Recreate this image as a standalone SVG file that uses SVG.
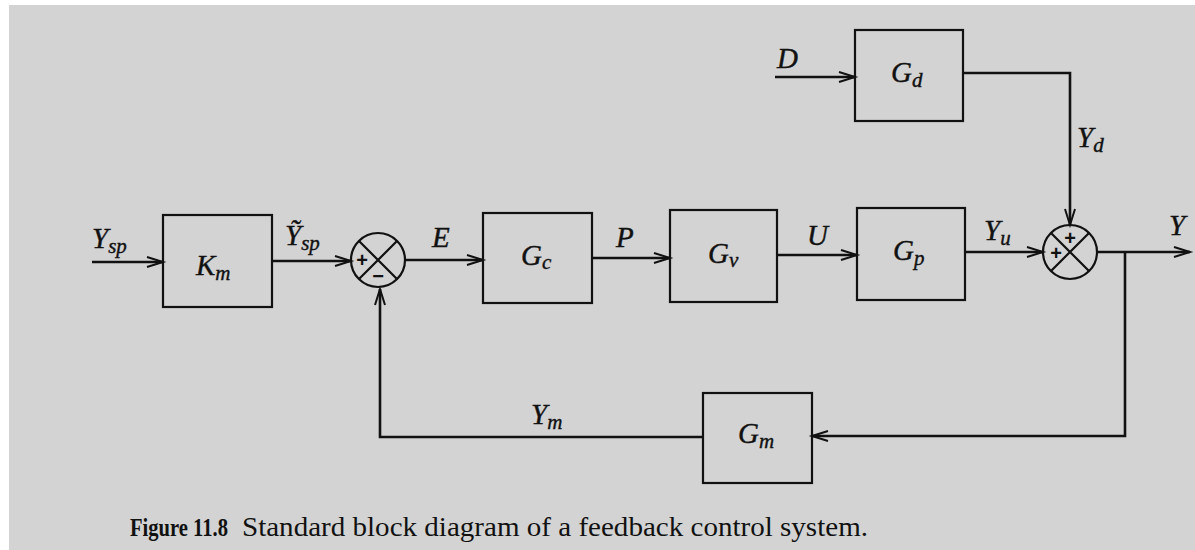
<svg xmlns="http://www.w3.org/2000/svg" width="1195" height="550" viewBox="0 0 1195 550">
<defs>
<marker id="arr" markerUnits="userSpaceOnUse" markerWidth="18" markerHeight="12" refX="16" refY="6" orient="auto" overflow="visible">
<path d="M0,1 L16,6 L0,11" fill="none" stroke="#111" stroke-width="2"/>
</marker>
<style>
.blk{fill:none;stroke:#111;stroke-width:2.2}
.ln{fill:none;stroke:#111;stroke-width:2.6;marker-end:url(#arr)}
.sj{fill:none;stroke:#111;stroke-width:2.2}
.lb{font-family:"Liberation Serif","DejaVu Serif",serif;font-style:italic;font-size:29px;fill:#111;stroke:#111;stroke-width:0.4}
.sb{font-size:21px}
.sg{font-family:"Liberation Sans","DejaVu Sans",sans-serif;font-size:20px;font-weight:bold;fill:#111}
.cap{font-family:"Liberation Serif","DejaVu Serif",serif;font-size:27px;fill:#111}
</style>
</defs>
<rect x="0" y="0" width="1195" height="550" fill="#ffffff"/>
<rect x="9" y="5" width="1186" height="545" fill="#d3d3d3"/>

<g id="connectors">
<path class="ln" d="M92,262 H163"/>
<path class="ln" d="M272,261 H351"/>
<path class="ln" d="M405,260 H483"/>
<path class="ln" d="M592,258 H670"/>
<path class="ln" d="M777,255 H857"/>
<path class="ln" d="M965,252 H1043"/>
<path class="ln" d="M1097,252 H1190"/>
<path class="ln" d="M775,77 H855"/>
<path class="ln" d="M963,73 H1070 V225"/>
<path class="ln" d="M1125,252 V436 H812"/>
<path class="ln" d="M703,437 H380 V289"/>
</g>

<g id="Km">
<rect class="blk" x="163" y="215" width="109" height="92"/>
<text class="lb" x="196" y="275">K<tspan class="sb" dy="5">m</tspan></text>
</g>
<g id="sum1">
<circle class="sj" cx="378" cy="260" r="27"/>
<path class="sj" d="M359,241 L397,279 M397,241 L359,279"/>
<text class="sg" x="362" y="267" text-anchor="middle">+</text>
<text class="sg" x="378" y="283" text-anchor="middle">−</text>
</g>
<g id="Gc">
<rect class="blk" x="483" y="213" width="109" height="90"/>
<text class="lb" x="521" y="265">G<tspan class="sb" dy="4">c</tspan></text>
</g>
<g id="Gv">
<rect class="blk" x="670" y="210" width="107" height="92"/>
<text class="lb" x="708" y="263">G<tspan class="sb" dy="4">v</tspan></text>
</g>
<g id="Gp">
<rect class="blk" x="857" y="208" width="108" height="92"/>
<text class="lb" x="893" y="260">G<tspan class="sb" dy="5">p</tspan></text>
</g>
<g id="sum2">
<circle class="sj" cx="1070" cy="252" r="27"/>
<path class="sj" d="M1051,233 L1089,271 M1089,233 L1051,271"/>
<text class="sg" x="1070" y="245" text-anchor="middle">+</text>
<text class="sg" x="1056" y="260" text-anchor="middle">+</text>
</g>
<g id="Gd">
<rect class="blk" x="855" y="30" width="108" height="91"/>
<text class="lb" x="891" y="82">G<tspan class="sb" dy="5">d</tspan></text>
</g>
<g id="Gm">
<rect class="blk" x="703" y="393" width="109" height="90"/>
<text class="lb" x="738" y="443">G<tspan class="sb" dy="5">m</tspan></text>
</g>

<g id="labels">
<text class="lb" x="92" y="248">Y<tspan class="sb" dy="5">sp</tspan></text>
<text class="lb" x="285" y="245">Ỹ<tspan class="sb" dy="5">sp</tspan></text>
<text class="lb" x="432" y="247">E</text>
<text class="lb" x="616" y="247">P</text>
<text class="lb" x="807" y="245">U</text>
<text class="lb" x="984" y="240">Y<tspan class="sb" dy="5">u</tspan></text>
<text class="lb" x="1169" y="235">Y</text>
<text class="lb" x="777" y="68">D</text>
<text class="lb" x="1077" y="147">Y<tspan class="sb" dy="5">d</tspan></text>
<text class="lb" x="531" y="424">Y<tspan class="sb" dy="5">m</tspan></text>
</g>

<g id="caption">
<text class="cap" x="130" y="536"><tspan font-weight="bold" font-size="25" textLength="98" lengthAdjust="spacingAndGlyphs">Figure 11.8</tspan><tspan x="242" textLength="626" lengthAdjust="spacingAndGlyphs">Standard block diagram of a feedback control system.</tspan></text>
</g>
</svg>
